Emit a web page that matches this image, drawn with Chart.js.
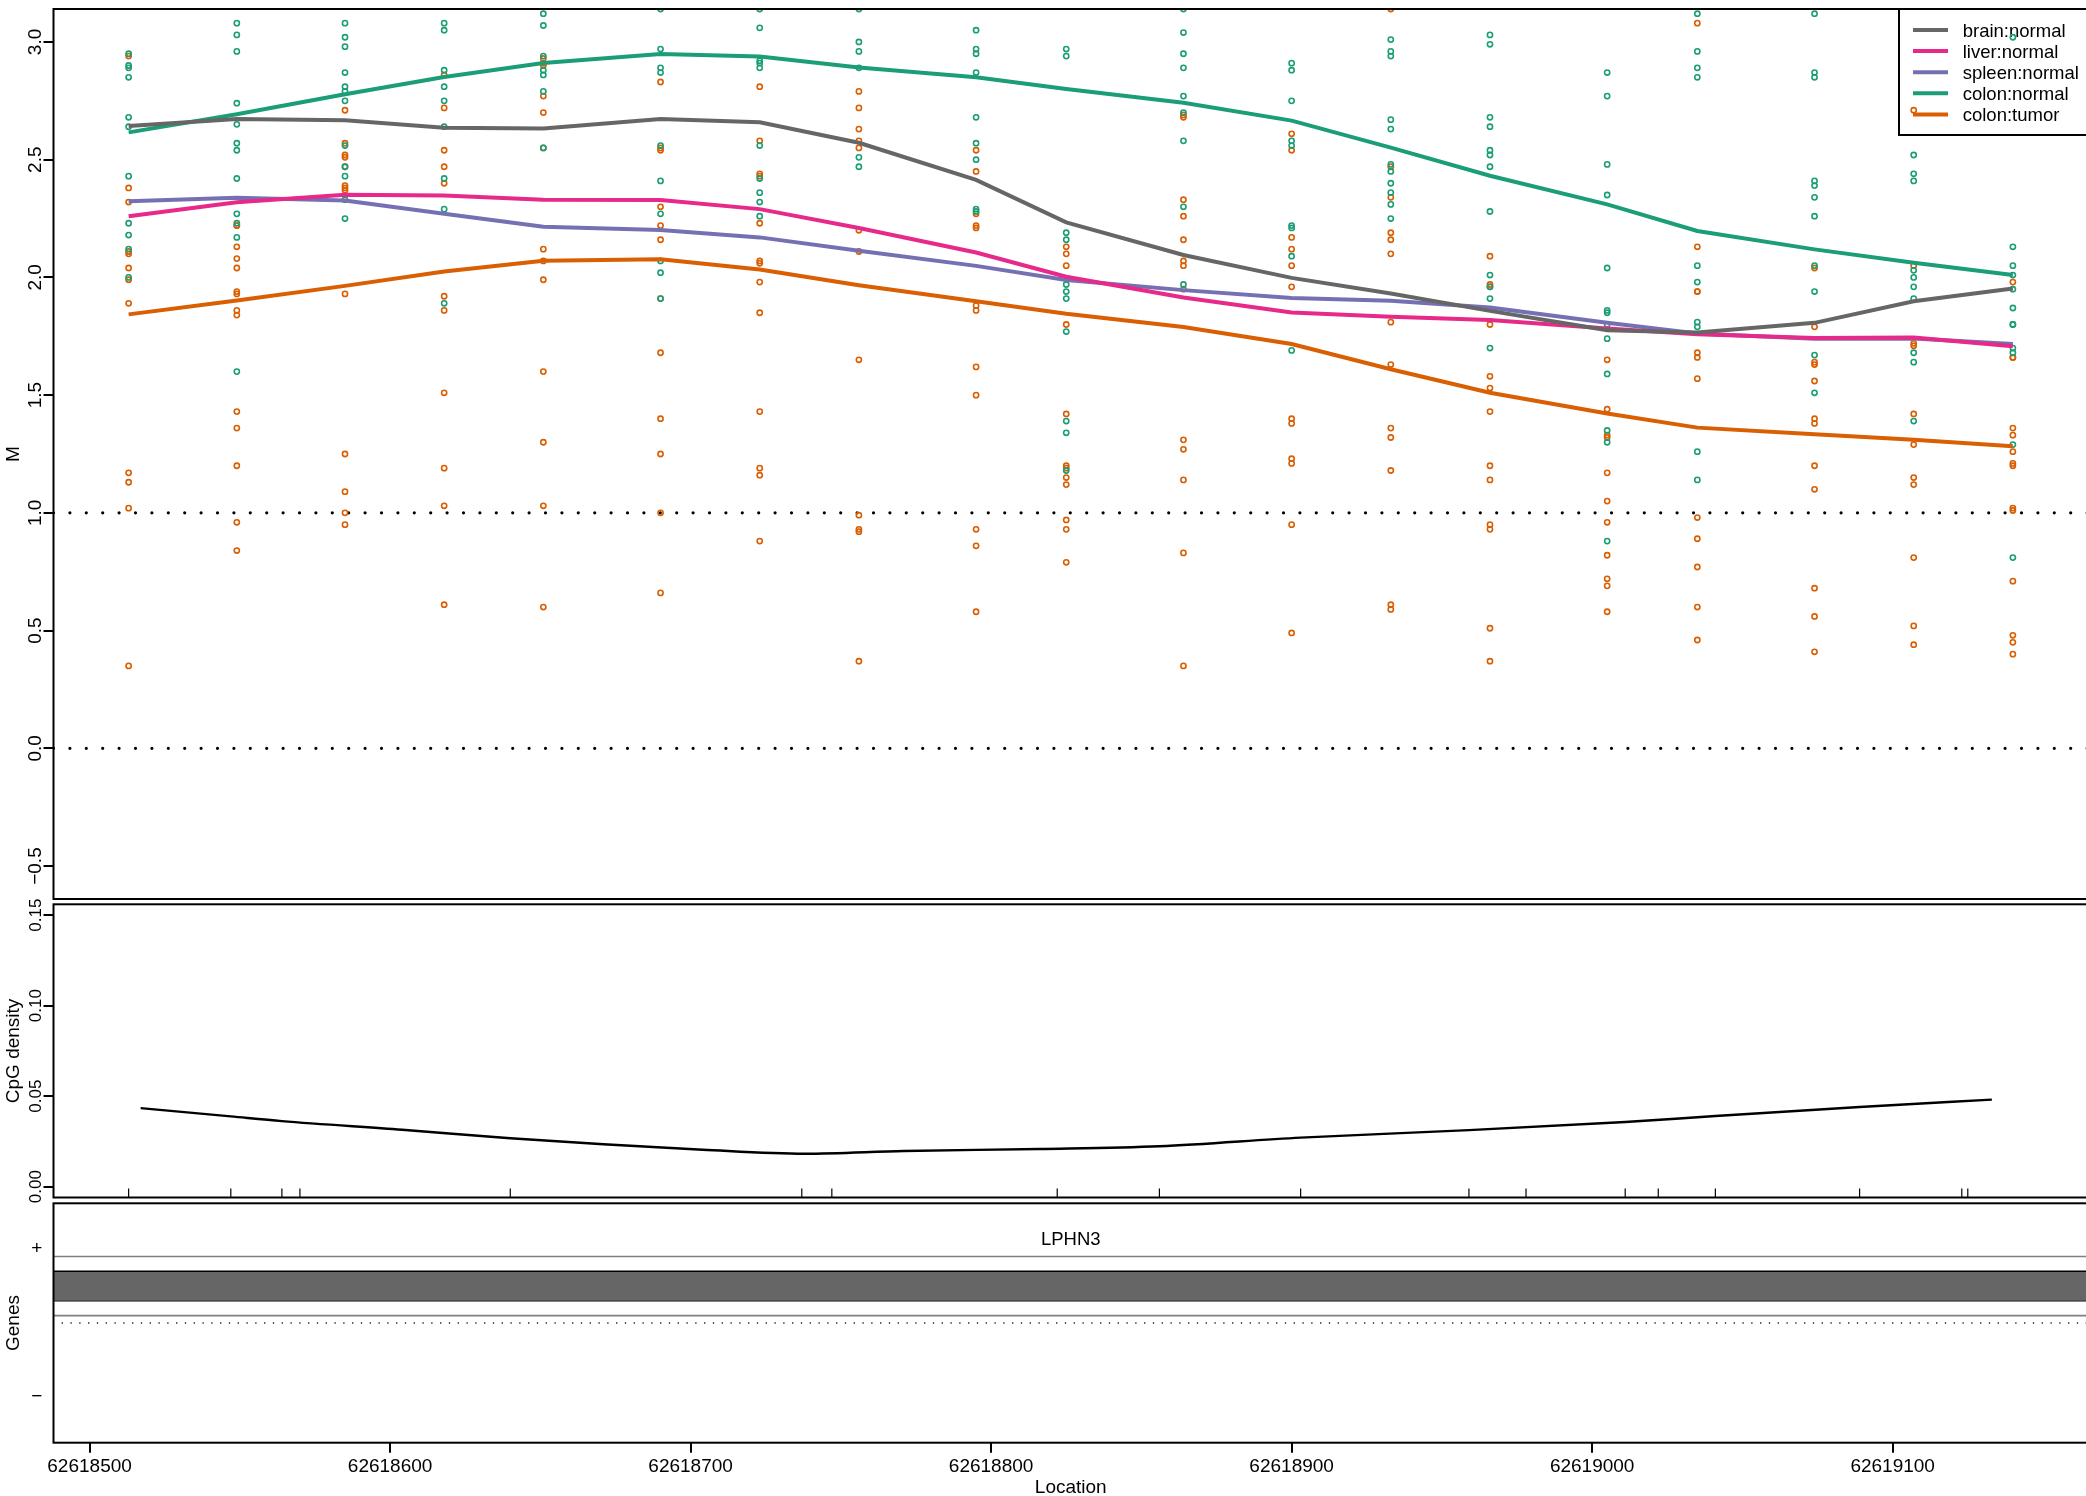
<!DOCTYPE html>
<html>
<head>
<meta charset="utf-8">
<title>M values, CpG density and genes</title>
<script src="https://cdn.jsdelivr.net/npm/chart.js"></script>
<style>
    html, body { margin: 0; padding: 0; background: #fff; overflow: hidden; width: 2086px; height: 1496px; }
    canvas { position: absolute; left: 0; }
</style>
</head>
<body>
<canvas id="mChart" width="2088" height="903" style="top:0px"></canvas>
<canvas id="cpgChart" width="2088" height="330" style="top:880px"></canvas>
<canvas id="geneChart" width="2088" height="296" style="top:1200px"></canvas>
<script>
// Region plot: smoothed M values per group, CpG density and gene track

// probe locations (one column of samples each)
const positions = [62618513, 62618549, 62618585, 62618618, 62618651, 62618690, 62618723, 62618756, 62618795, 62618825,
    62618864, 62618900, 62618933, 62618966, 62619005, 62619035, 62619074, 62619107, 62619140];

// smoothed group profiles
const brainNormal = [2.643, 2.673, 2.668, 2.636, 2.632, 2.673, 2.659, 2.572, 2.414, 2.234, 2.095, 1.998, 1.932, 1.858, 1.776, 1.766, 1.807, 1.899, 1.953];
const liverNormal = [2.260, 2.319, 2.351, 2.348, 2.330, 2.329, 2.290, 2.210, 2.106, 2.003, 1.915, 1.851, 1.833, 1.819, 1.783, 1.759, 1.743, 1.745, 1.708];
const spleenNormal = [2.323, 2.338, 2.327, 2.270, 2.215, 2.201, 2.170, 2.113, 2.049, 1.989, 1.946, 1.913, 1.901, 1.872, 1.807, 1.762, 1.739, 1.741, 1.717];
const colonNormal = [2.616, 2.693, 2.778, 2.851, 2.911, 2.949, 2.938, 2.892, 2.850, 2.800, 2.742, 2.666, 2.551, 2.432, 2.310, 2.197, 2.119, 2.062, 2.010];
const colonTumor = [1.843, 1.902, 1.964, 2.025, 2.071, 2.077, 2.034, 1.967, 1.899, 1.846, 1.789, 1.717, 1.610, 1.510, 1.422, 1.362, 1.334, 1.311, 1.283];

// single colon samples, one array per location
const colonNormalPts = [
    [2.95, 2.90, 2.89, 2.85, 2.68, 2.64, 2.43, 2.23, 2.18, 2.12, 2.00],
    [3.08, 3.03, 2.96, 2.74, 2.65, 2.57, 2.54, 2.42, 2.27, 2.23, 2.17, 1.60],
    [3.08, 3.02, 2.98, 2.87, 2.81, 2.79, 2.75, 2.56, 2.47, 2.43, 2.33, 2.25],
    [3.08, 3.05, 2.88, 2.81, 2.75, 2.64, 2.42, 2.29, 1.89],
    [3.12, 3.07, 2.94, 2.88, 2.86, 2.79, 2.55],
    [3.14, 2.97, 2.89, 2.87, 2.56, 2.41, 2.27, 2.07, 2.02, 1.91],
    [3.14, 3.06, 2.92, 2.91, 2.89, 2.56, 2.42, 2.36, 2.32, 2.26],
    [3.14, 3.00, 2.96, 2.89, 2.51, 2.47],
    [3.05, 2.97, 2.95, 2.87, 2.68, 2.57, 2.50, 2.29, 2.28],
    [2.97, 2.94, 2.19, 2.16, 1.97, 1.94, 1.91, 1.77, 1.39, 1.34, 1.18],
    [3.14, 3.04, 2.95, 2.89, 2.77, 2.70, 2.58, 2.30, 1.97],
    [2.91, 2.88, 2.75, 2.58, 2.56, 2.22, 2.21, 2.09, 1.69],
    [3.01, 2.96, 2.94, 2.67, 2.63, 2.48, 2.45, 2.40, 2.36, 2.31, 2.25],
    [3.03, 2.99, 2.68, 2.64, 2.54, 2.52, 2.47, 2.28, 2.01, 1.96, 1.91, 1.70],
    [2.87, 2.77, 2.48, 2.35, 2.04, 1.86, 1.85, 1.80, 1.74, 1.59, 1.35, 1.30, 0.88],
    [3.12, 2.96, 2.89, 2.85, 2.05, 1.98, 1.81, 1.79, 1.26, 1.14],
    [3.12, 2.87, 2.85, 2.41, 2.39, 2.34, 2.26, 2.05, 1.94, 1.67, 1.51],
    [2.52, 2.44, 2.41, 2.03, 2.00, 1.96, 1.91, 1.68, 1.64, 1.39],
    [3.02, 2.13, 2.05, 2.01, 1.95, 1.87, 1.80, 1.80, 1.70, 1.68, 1.29, 0.81]
];
const colonTumorPts = [
    [2.94, 2.38, 2.32, 2.11, 2.10, 2.04, 1.99, 1.89, 1.17, 1.13, 1.02, 0.35],
    [2.22, 2.22, 2.13, 2.08, 2.04, 1.94, 1.93, 1.86, 1.84, 1.43, 1.36, 1.20, 0.96, 0.84],
    [2.71, 2.57, 2.52, 2.51, 2.47, 2.39, 2.38, 2.37, 1.93, 1.25, 1.09, 1.00, 0.95],
    [2.86, 2.72, 2.54, 2.47, 2.40, 1.92, 1.86, 1.51, 1.19, 1.03, 0.61],
    [2.93, 2.91, 2.90, 2.77, 2.70, 2.55, 2.12, 2.07, 1.99, 1.60, 1.30, 1.03, 0.60],
    [2.83, 2.55, 2.54, 2.30, 2.22, 2.16, 1.91, 1.68, 1.40, 1.25, 1.00, 0.66],
    [2.81, 2.58, 2.44, 2.43, 2.23, 2.07, 2.06, 1.98, 1.85, 1.43, 1.19, 1.16, 0.88],
    [2.79, 2.72, 2.63, 2.58, 2.55, 2.20, 2.11, 1.65, 0.99, 0.93, 0.92, 0.37],
    [2.54, 2.45, 2.27, 2.22, 2.21, 1.88, 1.86, 1.62, 1.50, 0.93, 0.86, 0.58],
    [2.13, 2.10, 2.05, 1.80, 1.42, 1.20, 1.19, 1.15, 1.12, 0.97, 0.93, 0.79],
    [2.69, 2.68, 2.33, 2.26, 2.16, 2.07, 2.05, 1.95, 1.31, 1.27, 1.14, 0.83, 0.35],
    [2.61, 2.54, 2.17, 2.12, 2.05, 1.96, 1.40, 1.38, 1.23, 1.21, 0.95, 0.49],
    [3.14, 2.47, 2.34, 2.19, 2.16, 2.10, 1.81, 1.63, 1.36, 1.32, 1.18, 0.61, 0.59],
    [2.09, 1.97, 1.96, 1.80, 1.58, 1.53, 1.43, 1.20, 1.14, 0.95, 0.93, 0.51, 0.37],
    [1.65, 1.44, 1.33, 1.32, 1.17, 1.05, 0.96, 0.82, 0.72, 0.69, 0.58],
    [3.08, 2.13, 1.94, 1.94, 1.68, 1.66, 1.57, 0.98, 0.89, 0.77, 0.60, 0.46],
    [2.04, 1.79, 1.64, 1.63, 1.56, 1.40, 1.38, 1.20, 1.10, 0.68, 0.56, 0.41],
    [2.71, 2.05, 1.72, 1.71, 1.42, 1.29, 1.15, 1.12, 0.81, 0.52, 0.44],
    [1.98, 1.66, 1.66, 1.36, 1.33, 1.26, 1.21, 1.20, 1.02, 1.01, 0.71, 0.48, 0.45, 0.40]
];

const mTicks = [-0.5, 0, 0.5, 1, 1.5, 2, 2.5, 3];
const refLevels = [0, 1];

// CpG sites and smoothed CpG density
const cpgSites = [62618513, 62618547, 62618564, 62618570, 62618640, 62618737, 62618747, 62618822, 62618856, 62618903,
    62618959, 62618978, 62619011, 62619022, 62619041, 62619089, 62619123, 62619125];
const cpgCurveX = [62618517, 62618547, 62618564, 62618604, 62618640, 62618671, 62618704, 62618738, 62618771, 62618816,
    62618856, 62618903, 62618959, 62619011, 62619041, 62619089, 62619133];
const cpgCurveY = [0.0434, 0.0388, 0.0362, 0.0314, 0.0267, 0.0234, 0.0204, 0.0182, 0.0197, 0.0208,
    0.0223, 0.0271, 0.0312, 0.0357, 0.0390, 0.0440, 0.0481];
const cpgTicks = [0, 0.05, 0.1, 0.15];

const locationTicks = [62618500, 62618600, 62618700, 62618800, 62618900, 62619000, 62619100];

// gene track (gene runs past both ends of the window)
const geneName = 'LPHN3';
const geneRange = [62600000, 62640000];
const transcriptY = [0.1, 0.9];
const exonY = [0.3, 0.7];
const strandTicks = [1, -1];
const strandLabels = ['+', '\u2212'];
const geneLabelY = 1.13;

const groupNames = ['brain:normal', 'liver:normal', 'spleen:normal', 'colon:normal', 'colon:tumor'];
const groupColors = ['#666666', '#E7298A', '#7570B3', '#1B9E77', '#D95F02'];
const groupLines = [brainNormal, liverNormal, spleenNormal, colonNormal, colonTumor];

const FONT = '"Liberation Sans", Arial, Helvetica, sans-serif';
const X_MIN = 62618488;
const X_MAX = 62619165;
const AXIS_W = 53.5;
const LINE_W = 4;

Chart.defaults.animation = false;
Chart.defaults.events = [];

const minus = s => s.replace('-', '\u2212');

// box round each panel
const frame = {
    id: 'frame',
    afterDraw(chart) {
        const { ctx, chartArea: a } = chart;
        ctx.save();
        ctx.strokeStyle = '#000';
        ctx.lineWidth = 2;
        ctx.strokeRect(a.left, a.top, a.right - a.left, a.bottom - a.top);
        ctx.restore();
    }
};

// R-like axis text: rotated y labels, titles, x labels
function axisText(cfg) {
    return {
        id: 'axisText',
        afterDraw(chart) {
            const { ctx, chartArea: a } = chart;
            const ys = chart.scales.y;
            ctx.save();
            ctx.fillStyle = '#000';

            ctx.font = cfg.ySize + 'px ' + FONT;
            cfg.yTicks.forEach((v, i) => {
                const py = ys.getPixelForValue(v);
                const label = cfg.yText(v, i);
                if (cfg.rotate) {
                    ctx.save();
                    ctx.translate(41, py);
                    ctx.rotate(-Math.PI / 2);
                    ctx.textAlign = 'center';
                    ctx.textBaseline = 'alphabetic';
                    ctx.fillText(label, 0, 0);
                    ctx.restore();
                } else {
                    ctx.textAlign = 'center';
                    ctx.textBaseline = 'middle';
                    ctx.fillText(label, 36.7, py);
                }
            });

            ctx.font = '19px ' + FONT;
            ctx.save();
            ctx.translate(18.5, (a.top + a.bottom) / 2);
            ctx.rotate(-Math.PI / 2);
            ctx.textAlign = 'center';
            ctx.textBaseline = 'alphabetic';
            ctx.fillText(cfg.yTitle, 0, 0);
            ctx.restore();

            if (cfg.xTicks) {
                const xs = chart.scales.x;
                ctx.textAlign = 'center';
                ctx.textBaseline = 'alphabetic';
                cfg.xTicks.forEach(v => {
                    ctx.fillText(String(v), xs.getPixelForValue(v), a.bottom + 29.3);
                });
                ctx.fillText(cfg.xTitle, (a.left + a.right) / 2, a.bottom + 49.8);
            }
            ctx.restore();
        }
    };
}

// legend in the top right corner
const groupLegend = {
    id: 'groupLegend',
    beforeDatasetsDraw(chart) {
        const { ctx, chartArea: a } = chart;
        const left = a.right - 189;
        ctx.save();
        ctx.strokeStyle = '#000';
        ctx.lineWidth = 2;
        ctx.strokeRect(left, a.top, 200, 126);
        ctx.font = '18.5px ' + FONT;
        ctx.textAlign = 'left';
        ctx.textBaseline = 'alphabetic';
        groupNames.forEach((name, i) => {
            const y = a.top + 21 + i * 21.1;
            ctx.strokeStyle = groupColors[i];
            ctx.lineWidth = LINE_W;
            ctx.beginPath();
            ctx.moveTo(left + 14, y);
            ctx.lineTo(left + 49, y);
            ctx.stroke();
            ctx.fillStyle = '#000';
            ctx.fillText(name, left + 63.7, y + 7);
        });
        ctx.restore();
    }
};

// CpG site rug along the bottom of the density panel
const cpgRug = {
    id: 'cpgRug',
    afterDatasetsDraw(chart) {
        const { ctx, chartArea: a } = chart;
        const xs = chart.scales.x;
        ctx.save();
        ctx.strokeStyle = '#000';
        ctx.lineWidth = 1.2;
        cpgSites.forEach(p => {
            const px = xs.getPixelForValue(p);
            ctx.beginPath();
            ctx.moveTo(px, a.bottom);
            ctx.lineTo(px, a.bottom - 9);
            ctx.stroke();
        });
        ctx.restore();
    }
};

function yScale(min, max, ticks, showTicks) {
    return {
        type: 'linear',
        min: min,
        max: max,
        afterBuildTicks: s => { s.ticks = ticks.map(v => ({ value: v })); },
        afterFit: s => { s.width = AXIS_W; },
        ticks: { display: false },
        grid: { display: showTicks, drawOnChartArea: false, drawTicks: true, tickLength: 10, color: '#000', lineWidth: 2 },
        border: { display: false }
    };
}

const hidden = { type: 'linear', min: X_MIN, max: X_MAX, display: false };

// --- panel 1: M values ---
const mDatasets = [];
groupLines.forEach((vals, g) => {
    mDatasets.push({
        data: positions.map((x, i) => ({ x: x, y: vals[i] })),
        showLine: true,
        borderColor: groupColors[g],
        borderWidth: LINE_W,
        pointRadius: 0,
        order: 0
    });
});
[[colonNormalPts, groupColors[3]], [colonTumorPts, groupColors[4]]].forEach(([cols, color]) => {
    const data = [];
    cols.forEach((col, i) => col.forEach(v => data.push({ x: positions[i], y: v })));
    mDatasets.push({
        data: data,
        showLine: false,
        pointStyle: 'circle',
        pointRadius: 2.6,
        pointBorderWidth: 1.6,
        pointBorderColor: color,
        pointBackgroundColor: 'rgba(0,0,0,0)',
        order: 1
    });
});
refLevels.forEach(v => {
    mDatasets.push({
        data: [{ x: X_MIN, y: v }, { x: X_MAX, y: v }],
        showLine: true,
        borderColor: '#000',
        borderWidth: 3.2,
        borderDash: [0, 16.4],
        borderCapStyle: 'round',
        pointRadius: 0,
        order: 2
    });
});

new Chart(document.getElementById('mChart'), {
    type: 'scatter',
    data: { datasets: mDatasets },
    options: {
        responsive: false,
        layout: { autoPadding: false, padding: { top: 9, bottom: 4, left: 0, right: 0 } },
        plugins: { legend: { display: false }, tooltip: { enabled: false } },
        scales: { x: hidden, y: yScale(-0.64, 3.14, mTicks, true) }
    },
    plugins: [groupLegend, frame, axisText({
        yTicks: mTicks, ySize: 19, rotate: true, yTitle: 'M',
        yText: v => minus(v.toFixed(1))
    })]
});

// --- panel 2: CpG density ---
new Chart(document.getElementById('cpgChart'), {
    type: 'scatter',
    data: {
        datasets: [{
            data: cpgCurveX.map((x, i) => ({ x: x, y: cpgCurveY[i] })),
            showLine: true,
            borderColor: '#000',
            borderWidth: 2.4,
            pointRadius: 0,
            cubicInterpolationMode: 'monotone'
        }]
    },
    options: {
        responsive: false,
        layout: { autoPadding: false, padding: { top: 24.3, bottom: 12.5, left: 0, right: 0 } },
        plugins: { legend: { display: false }, tooltip: { enabled: false } },
        scales: { x: hidden, y: yScale(-0.006, 0.156, cpgTicks, true) }
    },
    plugins: [cpgRug, frame, axisText({
        yTicks: cpgTicks, ySize: 17, rotate: true, yTitle: 'CpG density',
        yText: v => v.toFixed(2)
    })]
});

// --- panel 3: genes ---
const span = y => [{ x: geneRange[0], y: y }, { x: geneRange[1], y: y }];
const geneDatasets = transcriptY.map(y => ({
    data: span(y), showLine: true, borderColor: '#808080', borderWidth: 1.7, pointRadius: 0
}));
geneDatasets.push({
    data: span(exonY[1]), showLine: true, borderColor: '#000', borderWidth: 1.5, pointRadius: 0,
    fill: '+1', backgroundColor: '#666666'
});
geneDatasets.push({
    data: span(exonY[0]), showLine: true, borderColor: '#000', borderWidth: 1.5, pointRadius: 0
});
geneDatasets.push({
    data: [{ x: X_MIN, y: 0 }, { x: X_MAX, y: 0 }],
    showLine: true, borderColor: '#000', borderWidth: 1.6, borderDash: [0, 8.8], borderCapStyle: 'round', pointRadius: 0
});

const geneLabel = {
    id: 'geneLabel',
    afterDatasetsDraw(chart) {
        const { ctx, chartArea: a } = chart;
        ctx.save();
        ctx.fillStyle = '#000';
        ctx.font = '18.5px ' + FONT;
        ctx.textAlign = 'center';
        ctx.textBaseline = 'middle';
        ctx.fillText(geneName, (a.left + a.right) / 2, chart.scales.y.getPixelForValue(geneLabelY));
        ctx.restore();
    }
};

new Chart(document.getElementById('geneChart'), {
    type: 'scatter',
    data: { datasets: geneDatasets },
    options: {
        responsive: false,
        layout: { autoPadding: false, padding: { top: 3.3, bottom: 0, left: 0, right: 0 } },
        plugins: { legend: { display: false }, tooltip: { enabled: false } },
        scales: {
            x: {
                type: 'linear',
                min: X_MIN,
                max: X_MAX,
                afterBuildTicks: s => { s.ticks = locationTicks.map(v => ({ value: v })); },
                afterFit: s => { s.height = 53.3; },
                ticks: { display: false },
                grid: { drawOnChartArea: false, drawTicks: true, tickLength: 10, color: '#000', lineWidth: 2 },
                border: { display: false }
            },
            y: yScale(-1.62, 1.62, strandTicks, false)
        }
    },
    plugins: [geneLabel, frame, axisText({
        yTicks: strandTicks, ySize: 19, rotate: false, yTitle: 'Genes',
        yText: (v, i) => strandLabels[i],
        xTicks: locationTicks, xTitle: 'Location'
    })]
});
</script>
</body>
</html>
